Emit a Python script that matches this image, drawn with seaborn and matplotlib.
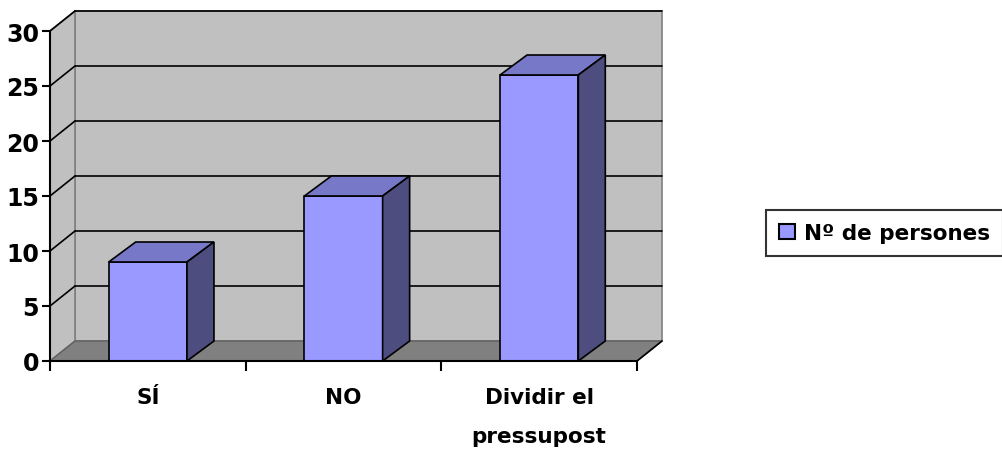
import matplotlib
matplotlib.use("Agg")
import matplotlib.pyplot as plt
from matplotlib.patches import Polygon, Patch
import seaborn as sns
import pandas as pd

categories = ["SÍ", "NO", "Dividir el\npressupost"]
values = [9, 15, 26]
series_name = "Nº de persones"
y_ticks = [0, 5, 10, 15, 20, 25, 30]

front_color = "#9999FF"
top_color = "#7878C8"
side_color = "#4D4D80"
wall_color = "#C0C0C0"
floor_color = "#808080"

sns.set_style("white")
plt.rcParams["font.family"] = ["DejaVu Sans"]
plt.rcParams["font.weight"] = "bold"
plt.rcParams["text.color"] = "black"
plt.rcParams["xtick.color"] = "black"
plt.rcParams["ytick.color"] = "black"

fig = plt.figure(figsize=(10.02, 4.52), dpi=100)
# front plane of the plot in pixels: x 50..637, y 32..362
ax = fig.add_axes([50 / 1002, 90 / 452, 587 / 1002, 330 / 452])

df = pd.DataFrame({"cat": categories, "val": values})
sns.barplot(data=df, x="cat", y="val", color=front_color, width=0.4,
            saturation=1, edgecolor="black", linewidth=1.2, ax=ax, zorder=3)

ax.set_xlim(-0.5, 2.5)
ax.set_ylim(0, 30)

px_x = 587 / 3
px_y = 330 / 30
wdx, wdy = 25 / px_x, 20 / px_y   # wall depth
bdx, bdy = 27 / px_x, 20 / px_y   # bar depth

x0, x1 = -0.5, 2.5
ymax = 30

# back wall, left wall, floor
ax.add_patch(Polygon([(x0 + wdx, wdy), (x1 + wdx, wdy), (x1 + wdx, ymax + wdy), (x0 + wdx, ymax + wdy)],
                     closed=True, facecolor=wall_color, edgecolor="#808080", lw=1.2, zorder=0, clip_on=False))
ax.add_patch(Polygon([(x0, 0), (x0 + wdx, wdy), (x0 + wdx, ymax + wdy), (x0, ymax)],
                     closed=True, facecolor=wall_color, edgecolor="#808080", lw=1.2, zorder=0, clip_on=False))
ax.add_patch(Polygon([(x0, 0), (x1, 0), (x1 + wdx, wdy), (x0 + wdx, wdy)],
                     closed=True, facecolor=floor_color, edgecolor="#606060", lw=1.0, zorder=1, clip_on=False))
ax.plot([x1, x1 + wdx], [0, wdy], color="black", lw=1.2, zorder=2, clip_on=False)

# gridlines on back wall and left wall
for t in y_ticks[1:]:
    ax.plot([x0 + wdx, x1 + wdx], [t + wdy, t + wdy], color="black", lw=1.2, zorder=1, clip_on=False)
    ax.plot([x0, x0 + wdx], [t, t + wdy], color="black", lw=1.2, zorder=1, clip_on=False)

# 3d faces of bars
for p in ax.patches[:]:
    if not hasattr(p, "get_width") or p.get_height() == 0:
        continue
    if p.get_facecolor()[:3] != matplotlib.colors.to_rgb(front_color):
        continue
    bx, bw, bh = p.get_x(), p.get_width(), p.get_height()
    ax.add_patch(Polygon([(bx, bh), (bx + bw, bh), (bx + bw + bdx, bh + bdy), (bx + bdx, bh + bdy)],
                         closed=True, facecolor=top_color, edgecolor="black", lw=1.2, zorder=3, clip_on=False))
    ax.add_patch(Polygon([(bx + bw, 0), (bx + bw + bdx, bdy), (bx + bw + bdx, bh + bdy), (bx + bw, bh)],
                         closed=True, facecolor=side_color, edgecolor="black", lw=1.2, zorder=3, clip_on=False))

ax.set_facecolor("none")
for s in ["top", "right"]:
    ax.spines[s].set_visible(False)
for s in ["left", "bottom"]:
    ax.spines[s].set_color("black")
    ax.spines[s].set_linewidth(1.5)
    ax.spines[s].set_zorder(4)

ax.set_yticks(y_ticks)
ax.set_yticklabels([str(t) for t in y_ticks], fontsize=17, fontweight="bold")
ax.tick_params(axis="y", direction="out", length=6, width=1.5, color="black", pad=2, left=True)

ax.set_xticks(range(len(categories)))
ax.set_xticklabels(categories, fontsize=15.5, fontweight="bold", linespacing=2.15)
ax.set_xticks([-0.5, 0.5, 1.5, 2.5], minor=True)
ax.tick_params(axis="x", which="major", length=0, pad=19)
ax.tick_params(axis="x", which="minor", direction="out", length=7, width=1.5, color="black", bottom=True)
ax.set_xlabel("")
ax.set_ylabel("")

handle = Patch(facecolor=front_color, edgecolor="black", linewidth=1.5)
leg = fig.legend([handle], [series_name], loc="center left", bbox_to_anchor=(766 / 1002, 1 - 234 / 452),
                 frameon=True, fancybox=False, edgecolor="black",
                 prop={"weight": "bold", "size": 15.5}, handlelength=0.75, handleheight=0.75,
                 handletextpad=0.4, borderpad=0.6, borderaxespad=0)
leg.get_frame().set_linewidth(1.5)

fig.savefig("out.png", dpi=100)
